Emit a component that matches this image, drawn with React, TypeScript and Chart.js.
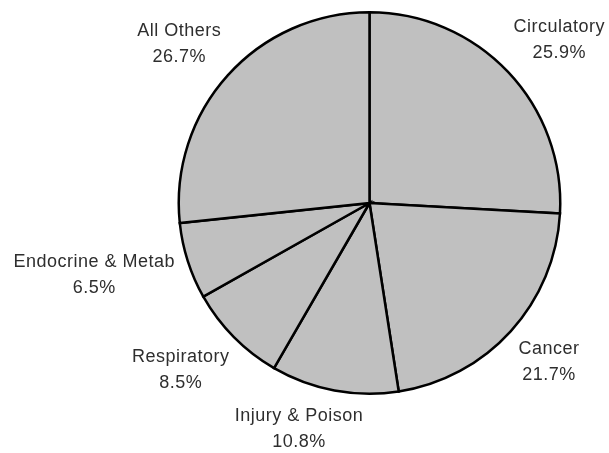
import React, { useEffect, useRef } from "react";
import { Chart, registerables } from "chart.js";

Chart.register(...registerables);

const categories = ["Circulatory", "Cancer", "Injury & Poison", "Respiratory", "Endocrine & Metab", "All Others"];
const shares = [25.9, 21.7, 10.8, 8.5, 6.5, 26.7];

const FONT = "18px 'Liberation Sans', Arial, sans-serif";

const outsideLabels = {
  id: "outsideLabels",
  afterDatasetsDraw(chart: any) {
    const ctx = chart.ctx;
    const meta = chart.getDatasetMeta(0);
    const labels = chart.data.labels as string[];
    const data = chart.data.datasets[0].data as number[];
    ctx.save();
    ctx.font = FONT;
    (ctx as any).letterSpacing = "0.5px";
    ctx.fillStyle = "#2e2e2e";
    ctx.textAlign = "center";
    ctx.textBaseline = "middle";
    meta.data.forEach((arc: any, i: number) => {
      const p = arc.getProps(["x", "y", "startAngle", "endAngle", "outerRadius"], true);
      const mid = (p.startAngle + p.endAngle) / 2;
      const dx = Math.cos(mid);
      const dy = Math.sin(mid);
      const l1 = labels[i];
      const l2 = data[i].toFixed(1) + "%";
      const w = Math.max(ctx.measureText(l1).width, ctx.measureText(l2).width);
      const r = p.outerRadius + 15;
      const kx = Math.pow(Math.abs(dx), 0.4);
      const ky = Math.min(1, Math.abs(dy) * 1.3);
      const cx = p.x + dx * r + Math.sign(dx) * (w / 2) * kx;
      const cy = p.y + dy * r + Math.sign(dy) * 24 * ky;
      ctx.fillText(l1, cx, cy - 13);
      ctx.fillText(l2, cx, cy + 13);
    });
    ctx.restore();
  },
};

export default function App() {
  const ref = useRef<HTMLCanvasElement>(null);
  useEffect(() => {
    if (!ref.current) return;
    const chart = new Chart(ref.current, {
      type: "pie",
      data: {
        labels: categories,
        datasets: [
          {
            data: shares,
            backgroundColor: "#c0c0c0",
            borderColor: "#000000",
            borderWidth: 2.5,
            borderJoinStyle: "miter",
          },
        ],
      },
      options: {
        responsive: false,
        animation: false,
        events: [],
        layout: { padding: { left: 177.5, right: 47.5, top: 11, bottom: 58 } },
        plugins: {
          legend: { display: false },
          tooltip: { enabled: false },
          title: { display: false },
        },
      },
      plugins: [outsideLabels],
    });
    return () => chart.destroy();
  }, []);
  return (
    <div style={{ position: "absolute", left: 0, top: 0, width: 609, height: 453, background: "#fff" }}>
      <canvas ref={ref} width={609} height={453} style={{ width: 609, height: 453 }} />
    </div>
  );
}
